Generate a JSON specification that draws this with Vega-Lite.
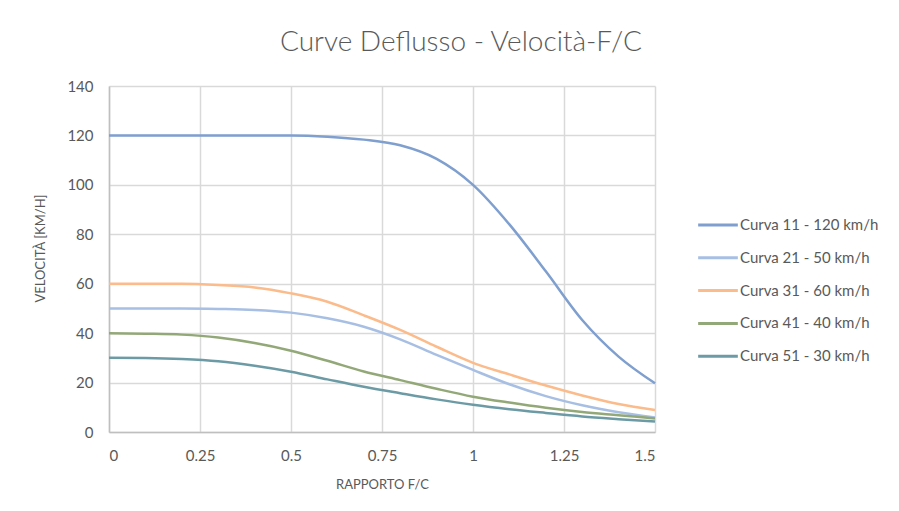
{
  "$schema": "https://vega.github.io/schema/vega-lite/v6.json",
  "autosize": "none",
  "width": 546,
  "height": 346,
  "padding": {"left": 109, "top": 86, "right": 244, "bottom": 79},
  "background": "white",
  "title": {
    "text": "Curve Deflusso - Velocità-F/C",
    "font": "Lato",
    "fontSize": 28,
    "fontWeight": 300,
    "color": "#595959",
    "anchor": "middle",
    "frame": "group",
    "dx": 79,
    "offset": 22
  },
  "data": {
    "values": [
      {"x": 0, "v": 120, "curva": "Curva 11 - 120 km/h"},
      {"x": 0.1, "v": 120, "curva": "Curva 11 - 120 km/h"},
      {"x": 0.2, "v": 120, "curva": "Curva 11 - 120 km/h"},
      {"x": 0.3, "v": 120, "curva": "Curva 11 - 120 km/h"},
      {"x": 0.4, "v": 120, "curva": "Curva 11 - 120 km/h"},
      {"x": 0.5, "v": 120, "curva": "Curva 11 - 120 km/h"},
      {"x": 0.6, "v": 119.5, "curva": "Curva 11 - 120 km/h"},
      {"x": 0.7, "v": 118.3, "curva": "Curva 11 - 120 km/h"},
      {"x": 0.8, "v": 116, "curva": "Curva 11 - 120 km/h"},
      {"x": 0.9, "v": 110.5, "curva": "Curva 11 - 120 km/h"},
      {"x": 1.0, "v": 100, "curva": "Curva 11 - 120 km/h"},
      {"x": 1.1, "v": 84, "curva": "Curva 11 - 120 km/h"},
      {"x": 1.2, "v": 65, "curva": "Curva 11 - 120 km/h"},
      {"x": 1.3, "v": 45.3, "curva": "Curva 11 - 120 km/h"},
      {"x": 1.4, "v": 30.5, "curva": "Curva 11 - 120 km/h"},
      {"x": 1.5, "v": 19.7, "curva": "Curva 11 - 120 km/h"},

      {"x": 0, "v": 50, "curva": "Curva 21 - 50 km/h"},
      {"x": 0.1, "v": 50, "curva": "Curva 21 - 50 km/h"},
      {"x": 0.2, "v": 50, "curva": "Curva 21 - 50 km/h"},
      {"x": 0.3, "v": 49.8, "curva": "Curva 21 - 50 km/h"},
      {"x": 0.4, "v": 49.4, "curva": "Curva 21 - 50 km/h"},
      {"x": 0.5, "v": 48.3, "curva": "Curva 21 - 50 km/h"},
      {"x": 0.6, "v": 46, "curva": "Curva 21 - 50 km/h"},
      {"x": 0.7, "v": 42.6, "curva": "Curva 21 - 50 km/h"},
      {"x": 0.8, "v": 37.5, "curva": "Curva 21 - 50 km/h"},
      {"x": 0.9, "v": 31.2, "curva": "Curva 21 - 50 km/h"},
      {"x": 1.0, "v": 25.1, "curva": "Curva 21 - 50 km/h"},
      {"x": 1.1, "v": 19.3, "curva": "Curva 21 - 50 km/h"},
      {"x": 1.2, "v": 14.5, "curva": "Curva 21 - 50 km/h"},
      {"x": 1.3, "v": 10.8, "curva": "Curva 21 - 50 km/h"},
      {"x": 1.4, "v": 8, "curva": "Curva 21 - 50 km/h"},
      {"x": 1.5, "v": 5.9, "curva": "Curva 21 - 50 km/h"},

      {"x": 0, "v": 60, "curva": "Curva 31 - 60 km/h"},
      {"x": 0.1, "v": 60, "curva": "Curva 31 - 60 km/h"},
      {"x": 0.2, "v": 60, "curva": "Curva 31 - 60 km/h"},
      {"x": 0.3, "v": 59.5, "curva": "Curva 31 - 60 km/h"},
      {"x": 0.4, "v": 58.5, "curva": "Curva 31 - 60 km/h"},
      {"x": 0.5, "v": 56.1, "curva": "Curva 31 - 60 km/h"},
      {"x": 0.6, "v": 52.7, "curva": "Curva 31 - 60 km/h"},
      {"x": 0.7, "v": 47.2, "curva": "Curva 31 - 60 km/h"},
      {"x": 0.8, "v": 41.3, "curva": "Curva 31 - 60 km/h"},
      {"x": 0.9, "v": 34.5, "curva": "Curva 31 - 60 km/h"},
      {"x": 1.0, "v": 28, "curva": "Curva 31 - 60 km/h"},
      {"x": 1.1, "v": 23.3, "curva": "Curva 31 - 60 km/h"},
      {"x": 1.2, "v": 18.8, "curva": "Curva 31 - 60 km/h"},
      {"x": 1.3, "v": 14.8, "curva": "Curva 31 - 60 km/h"},
      {"x": 1.4, "v": 11.3, "curva": "Curva 31 - 60 km/h"},
      {"x": 1.5, "v": 8.9, "curva": "Curva 31 - 60 km/h"},

      {"x": 0, "v": 40, "curva": "Curva 41 - 40 km/h"},
      {"x": 0.1, "v": 39.8, "curva": "Curva 41 - 40 km/h"},
      {"x": 0.2, "v": 39.4, "curva": "Curva 41 - 40 km/h"},
      {"x": 0.3, "v": 38.2, "curva": "Curva 41 - 40 km/h"},
      {"x": 0.4, "v": 36, "curva": "Curva 41 - 40 km/h"},
      {"x": 0.5, "v": 32.9, "curva": "Curva 41 - 40 km/h"},
      {"x": 0.6, "v": 28.8, "curva": "Curva 41 - 40 km/h"},
      {"x": 0.7, "v": 24.5, "curva": "Curva 41 - 40 km/h"},
      {"x": 0.8, "v": 21, "curva": "Curva 41 - 40 km/h"},
      {"x": 0.9, "v": 17.5, "curva": "Curva 41 - 40 km/h"},
      {"x": 1.0, "v": 14.3, "curva": "Curva 41 - 40 km/h"},
      {"x": 1.1, "v": 11.9, "curva": "Curva 41 - 40 km/h"},
      {"x": 1.2, "v": 9.8, "curva": "Curva 41 - 40 km/h"},
      {"x": 1.3, "v": 8.1, "curva": "Curva 41 - 40 km/h"},
      {"x": 1.4, "v": 6.8, "curva": "Curva 41 - 40 km/h"},
      {"x": 1.5, "v": 5.5, "curva": "Curva 41 - 40 km/h"},

      {"x": 0, "v": 30, "curva": "Curva 51 - 30 km/h"},
      {"x": 0.1, "v": 29.9, "curva": "Curva 51 - 30 km/h"},
      {"x": 0.2, "v": 29.5, "curva": "Curva 51 - 30 km/h"},
      {"x": 0.3, "v": 28.6, "curva": "Curva 51 - 30 km/h"},
      {"x": 0.4, "v": 26.8, "curva": "Curva 51 - 30 km/h"},
      {"x": 0.5, "v": 24.4, "curva": "Curva 51 - 30 km/h"},
      {"x": 0.6, "v": 21.3, "curva": "Curva 51 - 30 km/h"},
      {"x": 0.7, "v": 18.3, "curva": "Curva 51 - 30 km/h"},
      {"x": 0.8, "v": 15.7, "curva": "Curva 51 - 30 km/h"},
      {"x": 0.9, "v": 13.2, "curva": "Curva 51 - 30 km/h"},
      {"x": 1.0, "v": 11, "curva": "Curva 51 - 30 km/h"},
      {"x": 1.1, "v": 9.2, "curva": "Curva 51 - 30 km/h"},
      {"x": 1.2, "v": 7.7, "curva": "Curva 51 - 30 km/h"},
      {"x": 1.3, "v": 6.3, "curva": "Curva 51 - 30 km/h"},
      {"x": 1.4, "v": 5.2, "curva": "Curva 51 - 30 km/h"},
      {"x": 1.5, "v": 4.2, "curva": "Curva 51 - 30 km/h"}
    ]
  },
  "mark": {"type": "line", "strokeWidth": 2.5, "interpolate": "monotone"},
  "encoding": {
    "x": {
      "field": "x",
      "type": "quantitative",
      "scale": {"domain": [0, 1.5], "nice": false},
      "axis": {
        "title": "RAPPORTO F/C",
        "values": [0, 0.25, 0.5, 0.75, 1, 1.25, 1.5],
        "labelExpr": "datum.value == 0 ? '0' : format(datum.value, '~g')",
        "titlePadding": 15,
        "labelPadding": 16
      }
    },
    "y": {
      "field": "v",
      "type": "quantitative",
      "scale": {"domain": [0, 140], "nice": false},
      "axis": {
        "title": "VELOCITÀ [KM/H]",
        "values": [0, 20, 40, 60, 80, 100, 120, 140],
        "titlePadding": 19,
        "labelPadding": 16,
        "titleY": 162
      }
    },
    "color": {
      "field": "curva",
      "type": "nominal",
      "scale": {
        "domain": ["Curva 11 - 120 km/h", "Curva 21 - 50 km/h", "Curva 31 - 60 km/h", "Curva 41 - 40 km/h", "Curva 51 - 30 km/h"],
        "range": ["#7f9fcf", "#a7bfe3", "#fbbb8b", "#93a878", "#6c9ba5"]
      },
      "legend": {
        "title": null,
        "orient": "none",
        "legendX": 594,
        "legendY": 124,
        "symbolType": "M-1.5,0H1.5",
        "symbolStrokeWidth": 3,
        "symbolSize": 700,
        "rowPadding": 9.8,
        "labelFont": "Lato",
        "labelFontSize": 15,
        "labelColor": "#595959",
        "labelOffset": 7
      }
    }
  },
  "config": {
    "view": {"stroke": null},
    "axis": {
      "labelFont": "Lato",
      "labelFontSize": 15,
      "labelColor": "#595959",
      "titleFont": "Lato",
      "titleFontSize": 13,
      "titleFontWeight": "normal",
      "titleColor": "#595959",
      "gridColor": "#d9d9d9",
      "gridWidth": 1.5,
      "domainColor": "#bfbfbf",
      "domainWidth": 1.5,
      "ticks": false
    }
  }
}
